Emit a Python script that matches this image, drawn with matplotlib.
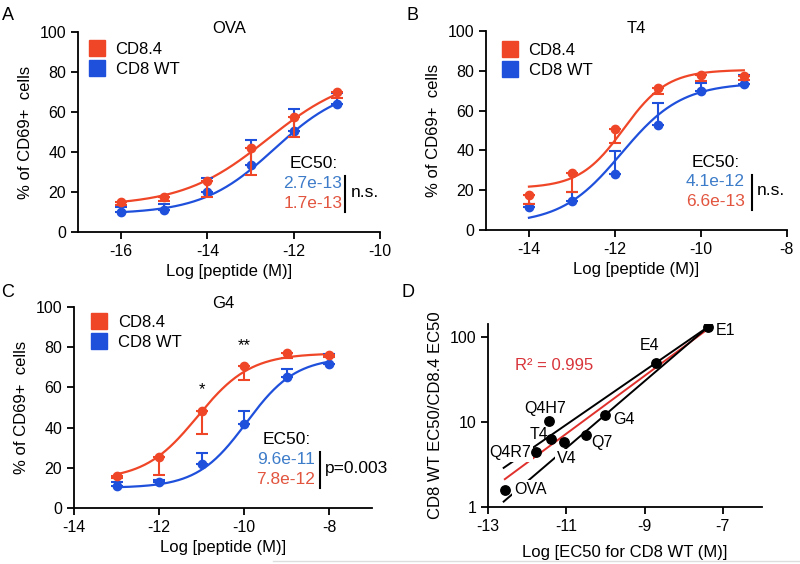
import numpy as np
import matplotlib
matplotlib.use('Agg')
import matplotlib.pyplot as plt
from matplotlib.lines import Line2D

plt.rcParams['font.family'] = ['Liberation Sans', 'DejaVu Sans']
plt.rcParams['axes.unicode_minus'] = False
plt.rcParams['axes.linewidth'] = 1.3
plt.rcParams['xtick.major.width'] = 1.3
plt.rcParams['ytick.major.width'] = 1.3
plt.rcParams['xtick.major.size'] = 5
plt.rcParams['ytick.major.size'] = 5
plt.rcParams['xtick.labelsize'] = 11.5
plt.rcParams['ytick.labelsize'] = 11.5

RED = '#f04628'
BLUE = '#1f50dc'
RED_TXT = '#e2553f'
BLUE_TXT = '#3d7cc9'

# --- A: OVA ---
ova_dose = [-16, -15, -14, -13, -12, -11]
ova_cd84 = [15.2, 17.7, 25.7, 41.8, 57.7, 69.8]
ova_cd84_err = [1.5, 2.0, 8.4, 13.4, 10.0, 3.0]
ova_wt = [10.2, 11.0, 19.8, 33.5, 50.5, 63.8]
ova_wt_err = [2.5, 3.0, 7.0, 12.5, 11.0, 5.5]
ova_fit_cd84 = (13, 80, -12.6, 0.44)
ova_fit_wt = (9, 74, -12.45, 0.52)
ova_ec50 = ('2.7e-13', '1.7e-13', 'n.s.')

# --- B: T4 ---
t4_dose = [-14, -13, -12, -11, -10, -9]
t4_cd84 = [17.6, 28.8, 50.7, 71.2, 77.9, 77.4]
t4_cd84_err = [4.5, 9.5, 7.0, 3.0, 2.9, 2.0]
t4_wt = [11.7, 14.7, 28.1, 52.8, 70.0, 73.4]
t4_wt_err = [1.5, 4.5, 11.7, 10.9, 4.0, 4.5]
t4_fit_cd84 = (21, 80.5, -11.8, 0.85)
t4_fit_wt = (3, 74, -11.85, 0.62)
t4_ec50 = ('4.1e-12', '6.6e-13', 'n.s.')

# --- C: G4 ---
g4_dose = [-13, -12, -11, -10, -9, -8]
g4_cd84 = [15.9, 25.5, 48.4, 70.5, 77.3, 76.1]
g4_cd84_err = [1.0, 8.9, 11.6, 7.0, 2.5, 1.0]
g4_wt = [10.9, 12.9, 21.9, 41.8, 65.3, 71.6]
g4_wt_err = [2.0, 1.0, 5.6, 6.6, 3.7, 5.0]
g4_fit_cd84 = (14, 77, -11.1, 0.7)
g4_fit_wt = (10, 75, -9.95, 0.75)
g4_ec50 = ('9.6e-11', '7.8e-12', 'p=0.003')
g4_stars = {-11: ('*', 58.7), -10: ('**', 81)}

# --- D: correlation ---
d_names = ['OVA', 'Q4R7', 'Q4H7', 'T4', 'V4', 'Q7', 'G4', 'E4', 'E1']
d_logec50 = [-12.57, -11.77, -11.44, -11.38, -11.06, -10.49, -10.0, -8.72, -7.37]
d_ratio = [1.6, 4.4, 10.4, 6.4, 5.9, 7.1, 12.2, 49.4, 133]
d_band_slopes = [0.318, 0.394]   # log10 slope of the two black bounding lines
d_r2 = 0.995


def logistic4(x, p):
    bottom, top, logec50, hill = p
    return bottom + (top - bottom) / (1 + 10 ** ((logec50 - x) * hill))


def dose_panel(ax, dose, cd84, cd84_err, wt, wt_err, fit84, fitwt, title,
               xlim, xticks, ec50, ec_pos, leg_anchor):
    xs = np.linspace(dose[0], dose[-1], 200)
    ax.plot(xs, logistic4(xs, fitwt), color=BLUE, lw=1.6, zorder=2)
    ax.plot(xs, logistic4(xs, fit84), color=RED, lw=1.6, zorder=2)
    ax.errorbar(dose, wt, yerr=[np.zeros(len(wt)), wt_err], fmt='o', color=BLUE,
                ms=6, capsize=4, elinewidth=1.5, capthick=1.5, zorder=3)
    ax.errorbar(dose, cd84, yerr=[cd84_err, np.zeros(len(cd84))], fmt='o', color=RED,
                ms=6, capsize=4, elinewidth=1.5, capthick=1.5, zorder=4)
    ax.set_xlim(*xlim)
    ax.set_ylim(0, 100)
    ax.set_xticks(xticks)
    ax.set_yticks([0, 20, 40, 60, 80, 100])
    ax.spines['top'].set_visible(False)
    ax.spines['right'].set_visible(False)
    ax.set_xlabel('Log [peptide (M)]', fontsize=12, labelpad=4)
    ax.set_ylabel('% of CD69+  cells', fontsize=12, labelpad=5)
    ax.text(0.5, 1.015, title, transform=ax.transAxes, ha='center', va='center', fontsize=12)
    handles = [Line2D([], [], marker='s', ls='none', color=RED, ms=12),
               Line2D([], [], marker='s', ls='none', color=BLUE, ms=12)]
    ax.legend(handles, ['CD8.4', 'CD8 WT'], loc='upper left', bbox_to_anchor=leg_anchor,
              frameon=False, fontsize=12, handlelength=1.0, handletextpad=0.6,
              labelspacing=0.3, borderpad=0, borderaxespad=0)
    # EC50 block
    x_ec, x_num, x_bar, x_p = ec_pos
    ax.text(x_ec, 34, 'EC50:', ha='center', va='center', fontsize=12.5)
    ax.text(x_num, 24.2, ec50[0], ha='right', va='center', fontsize=12.5, color=BLUE_TXT)
    ax.text(x_num, 14.2, ec50[1], ha='right', va='center', fontsize=12.5, color=RED_TXT)
    ax.plot([x_bar, x_bar], [10, 27.8], color='black', lw=1.5)
    ax.text(x_p, 19.6, ec50[2], ha='left', va='center', fontsize=12.5)


fig = plt.figure(figsize=(8, 5.64), dpi=100)

axA = fig.add_axes([0.0975, 0.5887, 0.3775, 0.3546])
dose_panel(axA, ova_dose, ova_cd84, ova_cd84_err, ova_wt, ova_wt_err, ova_fit_cd84, ova_fit_wt,
           'OVA', (-17, -10), [-16, -14, -12, -10], ova_ec50,
           (-11.53, -10.87, -10.82, -10.68), (0.036, 0.95))

axB = fig.add_axes([0.6075, 0.5922, 0.376, 0.3528])
dose_panel(axB, t4_dose, t4_cd84, t4_cd84_err, t4_wt, t4_wt_err, t4_fit_cd84, t4_fit_wt,
           'T4', (-15, -8), [-14, -12, -10, -8], t4_ec50,
           (-9.66, -8.97, -8.82, -8.7), (0.053, 0.94))

axC = fig.add_axes([0.0925, 0.0993, 0.3725, 0.3564])
dose_panel(axC, g4_dose, g4_cd84, g4_cd84_err, g4_wt, g4_wt_err, g4_fit_cd84, g4_fit_wt,
           'G4', (-14, -7), [-14, -12, -10, -8], g4_ec50,
           (-9.01, -8.35, -8.23, -8.11), (0.057, 0.96))
for x, (s, y) in g4_stars.items():
    axC.text(x, y, s, ha='center', va='center', fontsize=12)

# --- D ---
axD = fig.add_axes([0.61, 0.1011, 0.3425, 0.3245])
lx = np.array(d_logec50)
ly = np.log10(d_ratio)
slope, icpt = np.polyfit(lx, ly, 1)
xs = np.array([lx[0], lx[-1]])
axD.plot(xs, 10 ** (slope * xs + icpt), color='#e0302c', lw=1.4, zorder=2)
x_top, y_top = lx[-1], ly[-1]
for s in d_band_slopes:
    xb = np.array([-12.6, x_top])
    axD.plot(xb, 10 ** (y_top + s * (xb - x_top)), color='black', lw=1.4, zorder=2)
axD.scatter(lx, d_ratio, s=46, color='black', zorder=5)

label_off = {'E1': (5, -2.7, 'left'), 'E4': (-4.2, 12.7, 'center'), 'G4': (5.3, -3.5, 'left'),
             'Q7': (3.7, -5.4, 'left'), 'V4': (-5, -12.4, 'left'), 'T4': (-2.5, 2.7, 'right'),
             'Q4H7': (-3.1, 8.5, 'center'), 'Q4R7': (-3.4, 0, 'right'), 'OVA': (6.5, 0, 'left')}
boxed = ['Q4R7', 'V4', 'OVA']
for name, x, y in zip(d_names, lx, d_ratio):
    dx, dy, ha = label_off[name]
    bb = dict(facecolor='white', edgecolor='none', pad=1.5) if name in boxed else None
    axD.annotate(name, (x, y), xytext=(dx, dy), textcoords='offset points', ha=ha,
                 va='center', fontsize=11.5, bbox=bb, zorder=2.2)
axD.text(-12.32, 46.4, 'R\u00b2 = %.3f' % d_r2, color='#d8343a', fontsize=12, va='center')

axD.set_yscale('log')
axD.set_ylim(1, 143)
axD.set_xlim(-13, -6)
axD.set_xticks([-13, -11, -9, -7])
axD.set_yticks([1, 10, 100])
axD.set_yticklabels(['1', '10', '100'])
axD.minorticks_off()
axD.spines['top'].set_visible(False)
axD.spines['right'].set_visible(False)
axD.set_xlabel('Log [EC50 for CD8 WT (M)]', fontsize=12, labelpad=8)
axD.set_ylabel('CD8 WT EC50/CD8.4 EC50', fontsize=12, labelpad=5)

for lab, (x, y) in {'A': (0.01, 0.972), 'B': (0.515, 0.973), 'C': (0.01, 0.482), 'D': (0.51, 0.482)}.items():
    fig.text(x, y, lab, fontsize=13, ha='center', va='center')

fig.add_artist(Line2D([0.341, 1.0], [0.0053, 0.0053], color='#dddddd', lw=1))

fig.savefig('out.png', dpi=100)
